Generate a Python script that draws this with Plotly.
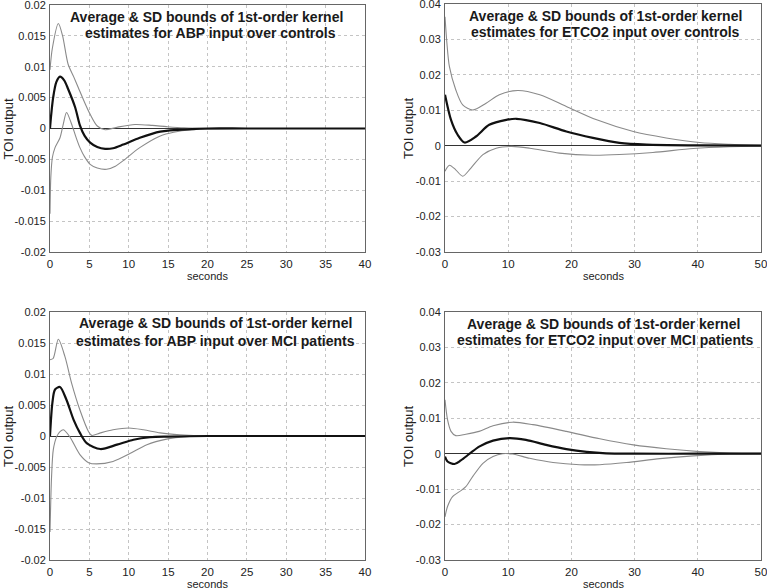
import plotly.graph_objects as go

# ---------------- data ----------------
# Panel 1: ABP input, controls
abp_ctrl_t_up = [0, 0.3, 1.06, 1.6, 2.3, 3.0, 3.6, 4.3, 5.1, 6.0, 7.0, 8.5, 10.8, 13.0, 14.8, 17.0, 20.0, 25.0, 40.0]
abp_ctrl_up = [0.0095, 0.013, 0.0170, 0.0150, 0.0104, 0.0084, 0.0066, 0.0045, 0.0023, 0.0004, -0.0002, 0.0002, 0.00065, 0.0005, 0.0003, 0.0001, 0.0, 0.0, 0.0]
abp_ctrl_t_mean = [0, 0.15, 0.4, 0.8, 1.27, 1.8, 2.3, 3.2, 3.8, 4.4, 5.1, 6.0, 7.0, 8.0, 9.3, 11.4, 14.0, 18.0, 20.0, 25.0, 40.0]
abp_ctrl_mean = [0.0, 0.0022, 0.0050, 0.0075, 0.0084, 0.0078, 0.0064, 0.0034, 0.0005, -0.0012, -0.0023, -0.0030, -0.0033, -0.0032, -0.0026, -0.0015, -0.0005, -0.0001, 0.0, 0.0, 0.0]
abp_ctrl_t_lo = [0, 0.1, 0.3, 0.64, 1.27, 1.7, 2.1, 2.75, 3.3, 3.8, 4.4, 5.1, 6.0, 7.2, 8.3, 9.3, 11.4, 14.0, 15.7, 18.0, 20.0, 25.0, 40.0]
abp_ctrl_lo = [-0.0138, -0.0080, -0.0047, -0.0031, -0.0015, 0.0008, 0.0026, 0.0007, -0.0014, -0.0031, -0.0046, -0.0058, -0.0064, -0.0066, -0.0061, -0.0052, -0.0031, -0.0012, -0.0006, -0.0002, -0.0001, 0.0, 0.0]

# Panel 2: ETCO2 input, controls
etco2_ctrl_t_up = [0, 0.3, 0.7, 1.7, 2.8, 4.4, 6.5, 8.6, 11.5, 15.0, 19.2, 24.0, 29.8, 35.0, 40.3, 45.0, 50.0]
etco2_ctrl_up = [0.0364, 0.029, 0.0223, 0.0158, 0.0115, 0.0101, 0.0120, 0.0144, 0.0156, 0.0144, 0.0111, 0.0073, 0.0040, 0.0022, 0.0009, 0.0004, 0.0001]
etco2_ctrl_t_mean = [0, 0.95, 2.0, 3.1, 4.9, 7.0, 9.7, 11.3, 15.0, 19.2, 23.4, 27.6, 31.9, 40.0, 50.0]
etco2_ctrl_mean = [0.0144, 0.0073, 0.0031, 0.0009, 0.0026, 0.0059, 0.0073, 0.0076, 0.0064, 0.0040, 0.0022, 0.0008, 0.0003, 0.0001, 0.0]
etco2_ctrl_t_lo = [0, 0.7, 1.7, 2.8, 4.1, 6.0, 8.1, 10.5, 13.4, 18.1, 23.4, 27.6, 32.9, 39.3, 45.0, 50.0]
etco2_ctrl_lo = [-0.0072, -0.0055, -0.0068, -0.0086, -0.0063, -0.0025, -0.0007, -0.0002, -0.0007, -0.0021, -0.0027, -0.0025, -0.0019, -0.0008, -0.0003, -0.0001]

# Panel 3: ABP input, MCI patients
abp_mci_t_up = [0, 0.4, 1.06, 1.9, 2.75, 3.8, 4.9, 5.3, 6.4, 8.0, 10.0, 11.9, 14.0, 16.5, 20.0, 25.0, 40.0]
abp_mci_up = [0.0123, 0.0125, 0.0156, 0.0128, 0.0085, 0.0042, 0.0007, 0.0001, 0.0005, 0.0010, 0.0013, 0.0010, 0.0005, 0.0002, 0.0, 0.0, 0.0]
abp_mci_t_mean = [0, 0.3, 0.64, 1.27, 2.1, 3.0, 3.8, 4.7, 6.4, 8.5, 10.6, 12.7, 15.0, 20.0, 25.0, 40.0]
abp_mci_mean = [0.0, 0.0053, 0.0075, 0.0079, 0.0058, 0.0026, 0.0005, -0.0012, -0.0021, -0.0014, -0.0006, -0.0002, -0.0001, 0.0, 0.0, 0.0]
abp_mci_t_lo = [0, 0.2, 0.42, 0.85, 1.27, 1.7, 2.5, 3.8, 4.9, 5.9, 8.0, 10.2, 12.3, 14.8, 17.4, 20.0, 25.0, 40.0]
abp_mci_lo = [-0.0155, -0.0065, -0.0022, -0.0001, 0.0007, 0.0010, -0.0001, -0.0030, -0.0043, -0.0045, -0.0041, -0.0028, -0.0014, -0.0005, -0.0001, 0.0, 0.0, 0.0]

# Panel 4: ETCO2 input, MCI patients
etco2_mci_t_up = [0, 0.4, 0.95, 1.7, 3.3, 5.4, 7.6, 10.7, 13.9, 19.2, 24.5, 29.8, 35.0, 40.3, 45.0, 50.0]
etco2_mci_up = [0.0152, 0.0096, 0.0063, 0.0051, 0.0055, 0.0063, 0.0079, 0.0089, 0.0082, 0.0063, 0.0042, 0.0025, 0.0014, 0.0006, 0.0002, 0.0001]
etco2_mci_t_mean = [0, 0.4, 1.5, 2.5, 3.9, 5.4, 7.6, 10.2, 12.8, 16.0, 19.2, 22.4, 25.5, 30.0, 40.0, 50.0]
etco2_mci_mean = [-0.0008, -0.0022, -0.0029, -0.0019, 0.0, 0.0020, 0.0037, 0.0044, 0.0039, 0.0025, 0.0013, 0.0005, 0.0001, 0.0, 0.0, 0.0]
etco2_mci_t_lo = [0, 0.4, 1.2, 2.3, 3.3, 4.4, 6.0, 7.6, 9.1, 10.7, 13.4, 17.1, 21.3, 24.5, 28.7, 34.0, 39.3, 45.0, 50.0]
etco2_mci_lo = [-0.0178, -0.0149, -0.0121, -0.0107, -0.0093, -0.0064, -0.0027, -0.0008, 0.0, -0.0001, -0.0013, -0.0025, -0.0031, -0.0031, -0.0025, -0.0014, -0.0006, -0.0001, 0.0]

titles = [
    ["Average & SD bounds of 1st-order kernel", "estimates for ABP input over controls"],
    ["Average & SD bounds of 1st-order kernel", "estimates for ETCO2 input over controls"],
    ["Average & SD bounds of 1st-order kernel", "estimates for ABP input over MCI patients"],
    ["Average & SD bounds of 1st-order kernel", "estimates for ETCO2 input over MCI patients"],
]

abp_yticks = [-0.02, -0.015, -0.01, -0.005, 0, 0.005, 0.01, 0.015, 0.02]
abp_yticktext = ["-0.02", "-0.015", "-0.01", "-0.005", "0", "0.005", "0.01", "0.015", "0.02"]
etco2_yticks = [-0.03, -0.02, -0.01, 0, 0.01, 0.02, 0.03, 0.04]
etco2_yticktext = ["-0.03", "-0.02", "-0.01", "0", "0.01", "0.02", "0.03", "0.04"]
abp_xticks = [0, 5, 10, 15, 20, 25, 30, 35, 40]
etco2_xticks = [0, 10, 20, 30, 40, 50]

# ---------------- figure ----------------
W, H = 767, 588
FONT = "Liberation Sans, Arial, sans-serif"

panels = [
    dict(series=(abp_ctrl_t_up, abp_ctrl_up, abp_ctrl_t_mean, abp_ctrl_mean, abp_ctrl_t_lo, abp_ctrl_lo),
         px=(50, 365), py=(5, 252), xr=(0, 40), yr=(-0.02, 0.02), xt=abp_xticks,
         yt=(abp_yticks, abp_yticktext), title_y=(16.7, 33.0), title_x=(206, 210)),
    dict(series=(etco2_ctrl_t_up, etco2_ctrl_up, etco2_ctrl_t_mean, etco2_ctrl_mean, etco2_ctrl_t_lo, etco2_ctrl_lo),
         px=(445, 761), py=(4, 252), xr=(0, 50), yr=(-0.03, 0.04), xt=etco2_xticks,
         yt=(etco2_yticks, etco2_yticktext), title_y=(15.7, 31.7), title_x=(605, 605)),
    dict(series=(abp_mci_t_up, abp_mci_up, abp_mci_t_mean, abp_mci_mean, abp_mci_t_lo, abp_mci_lo),
         px=(50, 365), py=(312, 560), xr=(0, 40), yr=(-0.02, 0.02), xt=abp_xticks,
         yt=(abp_yticks, abp_yticktext), title_y=(323.3, 340.7), title_x=(215, 215)),
    dict(series=(etco2_mci_t_up, etco2_mci_up, etco2_mci_t_mean, etco2_mci_mean, etco2_mci_t_lo, etco2_mci_lo),
         px=(445, 761), py=(312, 560), xr=(0, 50), yr=(-0.03, 0.04), xt=etco2_xticks,
         yt=(etco2_yticks, etco2_yticktext), title_y=(324, 340), title_x=(603, 605)),
]

fig = go.Figure()
annotations = []
layout = {}
for i, p in enumerate(panels):
    n = "" if i == 0 else str(i + 1)
    xa, ya = "x" + n, "y" + n
    tu, up, tm, mean, tl, lo = p["series"]
    for tt, yy, col, wd in ((tu, up, "#8a8a8a", 1.1), (tl, lo, "#8a8a8a", 1.1), (tm, mean, "#111111", 2.2)):
        fig.add_trace(go.Scatter(x=tt, y=yy, mode="lines", xaxis=xa, yaxis=ya,
                                 line=dict(color=col, width=wd, shape="spline", smoothing=0.8),
                                 showlegend=False, hoverinfo="skip"))
    layout["xaxis" + n] = dict(
        domain=[p["px"][0] / W, p["px"][1] / W], range=list(p["xr"]), anchor=ya, automargin=False,
        tickvals=p["xt"], ticktext=[str(v) for v in p["xt"]], ticklabeloverflow="allow",
        showgrid=True, gridcolor="#c4c4c4", griddash="dot", gridwidth=1,
        zeroline=False, showline=True, linecolor="#666666", linewidth=1, mirror=True,
        ticks="", tickfont=dict(family=FONT, size=11.5, color="#222"), ticklabelstandoff=1,
    )
    layout["yaxis" + n] = dict(
        domain=[1 - p["py"][1] / H, 1 - p["py"][0] / H], range=list(p["yr"]), anchor=xa, automargin=False,
        tickvals=p["yt"][0], ticktext=p["yt"][1], ticklabeloverflow="allow",
        showgrid=True, gridcolor="#c4c4c4", griddash="dot", gridwidth=1,
        zeroline=True, zerolinecolor="#333333", zerolinewidth=1,
        showline=True, linecolor="#666666", linewidth=1, mirror=True,
        ticks="", tickfont=dict(family=FONT, size=11, color="#222"), ticklabelstandoff=1,
    )
    # title lines (bold, inside the plot)
    for line, yy, xx in zip(titles[i], p["title_y"], p["title_x"]):
        annotations.append(dict(text="<b>%s</b>" % line, x=xx / W, y=1 - yy / H, xref="paper", yref="paper",
                                xanchor="center", yanchor="middle", showarrow=False,
                                font=dict(family=FONT, size=14, color="#1a1a1a")))
    # axis titles
    cx = (p["px"][0] + p["px"][1]) / 2
    annotations.append(dict(text="seconds", x=cx / W, y=1 - (p["py"][1] + 23.5) / H, xref="paper", yref="paper",
                            xanchor="center", yanchor="middle", showarrow=False,
                            font=dict(family=FONT, size=11, color="#222")))
    ylab_x = 8 if p["px"][0] < 100 else 408
    annotations.append(dict(text="TOI output", x=ylab_x / W, y=1 - ((p["py"][0] + p["py"][1]) / 2) / H,
                            xref="paper", yref="paper", xanchor="center", yanchor="middle", textangle=-90,
                            showarrow=False, font=dict(family=FONT, size=13, color="#222")))

fig.update_layout(width=W, height=H, margin=dict(l=0, r=0, t=0, b=0),
                  paper_bgcolor="white", plot_bgcolor="white",
                  annotations=annotations, **layout)
fig.write_html("out.html", config={"displayModeBar": False, "staticPlot": True},
               post_script="document.body.style.margin='0';document.body.style.padding='0';")
